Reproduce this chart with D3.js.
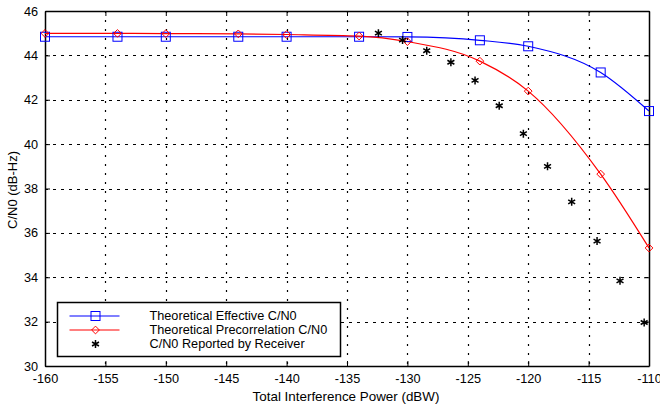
<!DOCTYPE html>
<html>
<head>
<meta charset="utf-8">
<script src="https://cdn.jsdelivr.net/npm/d3@7"></script>
<style>
  body { margin: 0; background: #fff; }
  text { font-family: "Liberation Sans", Arial, sans-serif; fill: #000; }
</style>
</head>
<body>
<div id="chart"></div>
<script>
var svgWidth = 660;
var svgHeight = 407;

var margin = { top: 11, right: 11, bottom: 41, left: 45 };
var width = svgWidth - margin.left - margin.right;
var height = svgHeight - margin.top - margin.bottom;

// data
var xTicks = [-160, -155, -150, -145, -140, -135, -130, -125, -120, -115, -110];
var yTicks = [30, 32, 34, 36, 38, 40, 42, 44, 46];

var theoryX = [-160, -154, -150, -144, -140, -134, -130, -124, -120, -114, -110];
var effective = [44.84, 44.84, 44.84, 44.84, 44.84, 44.84, 44.83, 44.68, 44.41, 43.23, 41.49];
var precorr = [44.99, 44.99, 44.98, 44.97, 44.94, 44.87, 44.62, 43.74, 42.39, 38.65, 35.32];

var receiverX = [-132.4, -130.4, -128.4, -126.4, -124.4, -122.4, -120.4, -118.4, -116.4, -114.3, -112.4, -110.4];
var receiver = [45.0, 44.69, 44.21, 43.69, 42.87, 41.73, 40.47, 39.0, 37.4, 35.63, 33.84, 31.96];

var legendLabels = ["Theoretical Effective C/N0", "Theoretical Precorrelation C/N0", "C/N0 Reported by Receiver"];

var svg = d3.select("#chart")
  .append("svg")
  .attr("width", svgWidth)
  .attr("height", svgHeight);

var chartGroup = svg.append("g")
  .attr("transform", `translate(${margin.left}, ${margin.top})`);

var xScale = d3.scaleLinear().domain([-160, -110]).range([0, width]);
var yScale = d3.scaleLinear().domain([30, 46]).range([height, 0]);

// dotted grid
chartGroup.selectAll(".vgrid")
  .data(xTicks.slice(1, -1))
  .enter()
  .append("line")
  .attr("x1", d => Math.round(xScale(d)) + 0.5)
  .attr("x2", d => Math.round(xScale(d)) + 0.5)
  .attr("y1", 0)
  .attr("y2", height)
  .attr("stroke", "#000")
  .attr("stroke-width", 1.2)
  .attr("stroke-dasharray", "2,7");

chartGroup.selectAll(".hgrid")
  .data(yTicks.slice(1, -1))
  .enter()
  .append("line")
  .attr("x1", 0)
  .attr("x2", width)
  .attr("y1", d => Math.round(yScale(d)) + 0.5)
  .attr("y2", d => Math.round(yScale(d)) + 0.5)
  .attr("stroke", "#000")
  .attr("stroke-width", 1.2)
  .attr("stroke-dasharray", "3,5");

// axes with inward ticks, mirrored on top and right
var bottomAxis = d3.axisBottom(xScale).tickValues(xTicks).tickSizeInner(-5).tickSizeOuter(0).tickPadding(8);
var leftAxis = d3.axisLeft(yScale).tickValues(yTicks).tickSizeInner(-5).tickSizeOuter(0).tickPadding(7);
var topAxis = d3.axisTop(xScale).tickValues(xTicks).tickSizeInner(-5).tickSizeOuter(0).tickFormat("");
var rightAxis = d3.axisRight(yScale).tickValues(yTicks).tickSizeInner(-5).tickSizeOuter(0).tickFormat("");

function styleAxis(g) {
  g.select(".domain").attr("stroke", "#000").attr("stroke-width", 1.5);
  g.selectAll(".tick line").attr("stroke", "#000");
  g.selectAll(".tick text").style("font-size", "12.7px").style("font-family", "Liberation Sans, Arial, sans-serif");
}

chartGroup.append("g").attr("transform", `translate(0, ${height})`).call(bottomAxis).call(styleAxis);
chartGroup.append("g").call(leftAxis).call(styleAxis);
chartGroup.append("g").call(topAxis).call(styleAxis);
chartGroup.append("g").attr("transform", `translate(${width}, 0)`).call(rightAxis).call(styleAxis);

// tick labels use a plain hyphen-minus like the original
chartGroup.selectAll(".tick text").text(function() { return d3.select(this).text().replace("\u2212", "-"); });

// theory lines
var line = d3.line()
  .x((d, i) => xScale(theoryX[i]))
  .y(d => yScale(d))
  .curve(d3.curveMonotoneX);

chartGroup.append("path")
  .datum(effective)
  .attr("d", line)
  .attr("fill", "none")
  .attr("stroke", "#0000ff")
  .attr("stroke-width", 1.2);

chartGroup.append("path")
  .datum(precorr)
  .attr("d", line)
  .attr("fill", "none")
  .attr("stroke", "#ff0000")
  .attr("stroke-width", 1.2);

// markers
var sq = 9;
chartGroup.selectAll(".sq")
  .data(effective)
  .enter()
  .append("rect")
  .attr("x", (d, i) => xScale(theoryX[i]) - sq / 2)
  .attr("y", d => yScale(d) - sq / 2)
  .attr("width", sq)
  .attr("height", sq)
  .attr("fill", "none")
  .attr("stroke", "#0000ff")
  .attr("stroke-width", 1);

var diamond = d3.symbol().type(d3.symbolDiamond2).size(38);
chartGroup.selectAll(".dm")
  .data(precorr)
  .enter()
  .append("path")
  .attr("d", diamond)
  .attr("transform", (d, i) => `translate(${xScale(theoryX[i])}, ${yScale(d)})`)
  .attr("fill", "none")
  .attr("stroke", "#ff0000")
  .attr("stroke-width", 1);

var star = d3.symbol().type(d3.symbolAsterisk).size(45);
chartGroup.selectAll(".st")
  .data(receiver)
  .enter()
  .append("path")
  .attr("d", star)
  .attr("transform", (d, i) => `translate(${xScale(receiverX[i])}, ${yScale(d)})`)
  .attr("fill", "none")
  .attr("stroke", "#000")
  .attr("stroke-width", 1.5);

// legend
var legend = svg.append("g").attr("transform", "translate(57.5, 302.5)");
legend.append("rect")
  .attr("width", 283)
  .attr("height", 54)
  .attr("fill", "#fff")
  .attr("stroke", "#000")
  .attr("stroke-width", 1.5);

var rows = [13.5, 27.5, 41.5];
var colors = ["#0000ff", "#ff0000", "#000"];
legendLabels.forEach(function(label, i) {
  if (i < 2) {
    legend.append("line")
      .attr("x1", 12).attr("x2", 62)
      .attr("y1", rows[i]).attr("y2", rows[i])
      .attr("stroke", colors[i]).attr("stroke-width", 1.2);
  }
  if (i === 0) {
    legend.append("rect")
      .attr("x", 38 - sq / 2).attr("y", rows[i] - sq / 2)
      .attr("width", sq).attr("height", sq)
      .attr("fill", "none").attr("stroke", colors[i]);
  } else if (i === 1) {
    legend.append("path").attr("d", diamond)
      .attr("transform", `translate(38, ${rows[i]})`)
      .attr("fill", "none").attr("stroke", colors[i]);
  } else {
    legend.append("path").attr("d", star)
      .attr("transform", `translate(38, ${rows[i]})`)
      .attr("fill", "none").attr("stroke", "#000").attr("stroke-width", 1.5);
  }
  legend.append("text")
    .attr("x", 92)
    .attr("y", rows[i])
    .attr("dy", "0.35em")
    .style("font-size", "12.7px")
    .text(label);
});

// axis titles
svg.append("text")
  .attr("x", 346)
  .attr("y", 401)
  .style("text-anchor", "middle")
  .style("font-size", "13.4px")
  .text("Total Interference Power (dBW)");

svg.append("text")
  .attr("transform", "rotate(-90)")
  .attr("x", -190)
  .attr("y", 17)
  .style("text-anchor", "middle")
  .style("font-size", "13px")
  .text("C/N0 (dB-Hz)");
</script>
</body>
</html>
